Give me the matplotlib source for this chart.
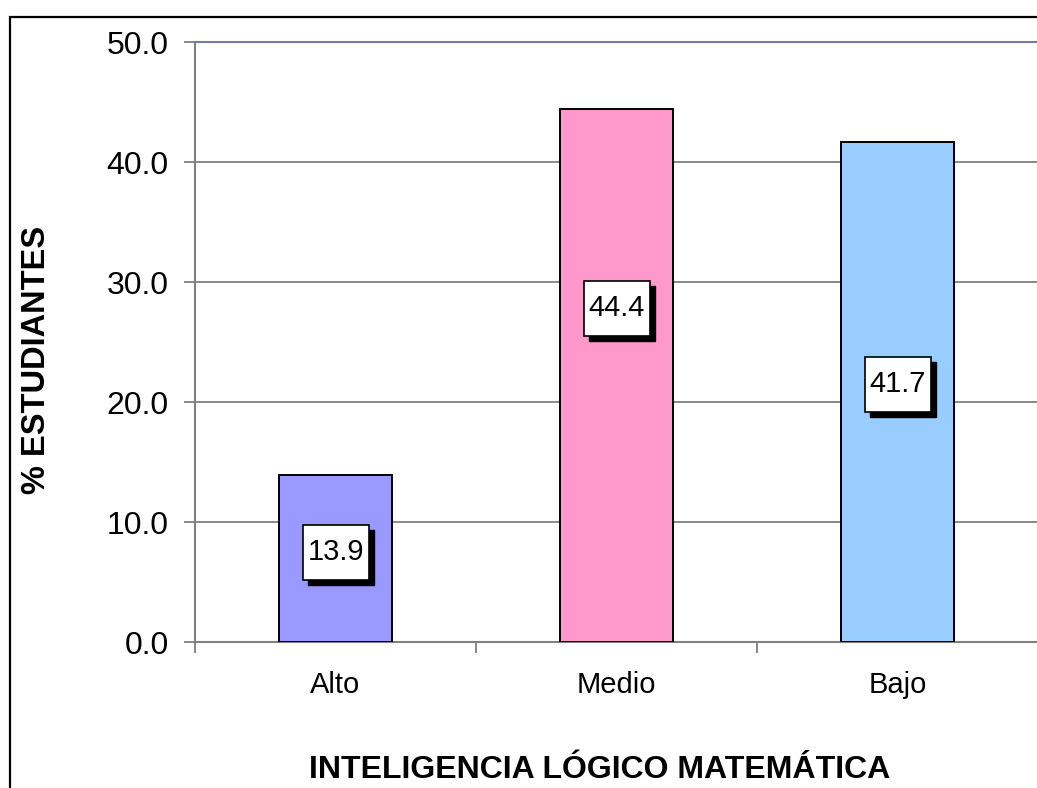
import matplotlib.pyplot as plt
from matplotlib.patches import Rectangle
from matplotlib.transforms import ScaledTranslation

plt.rcParams['font.family'] = ['Liberation Sans', 'DejaVu Sans']

categorias = ['Alto', 'Medio', 'Bajo']
porcentajes = [13.9, 44.4, 41.7]
colores = ['#9999ff', '#ff99cc', '#99ccff']
# altura (en unidades del eje) donde va cada etiqueta
pos_etiqueta = [7.5, 27.8, 21.5]

fig = plt.figure(figsize=(10.37, 7.88), dpi=100)
ax = fig.add_axes([195/1037, 1-642/788, 843/1037, 600/788])

x = list(range(len(categorias)))
ax.bar(x, porcentajes, width=0.405, color=colores, edgecolor='black', linewidth=1.4, zorder=3)

ax.set_xlim(-0.5, 2.5)
ax.set_ylim(0, 50)
ax.set_yticks([0, 10, 20, 30, 40, 50])
ax.set_yticklabels(['%.1f' % v for v in [0, 10, 20, 30, 40, 50]], fontsize=23)
ax.yaxis.grid(True, color='#808080', linewidth=1.3, zorder=0)
ax.tick_params(axis='y', length=8, width=1.3, color='#808080', pad=11)

# ticks en los limites de categoria, etiquetas centradas
ax.set_xticks([-0.5, 0.5, 1.5, 2.5])
ax.set_xticklabels([])
ax.set_xticks(x, minor=True)
ax.set_xticklabels(categorias, minor=True, fontsize=21)
ax.tick_params(axis='x', which='major', length=8, width=1.3, color='#808080')
ax.tick_params(axis='x', which='minor', length=0, pad=21)

for s in ['left', 'bottom']:
    ax.spines[s].set_color('#808080')
    ax.spines[s].set_linewidth(1.5)
ax.spines['top'].set_color('#7878a8')
ax.spines['top'].set_linewidth(1.5)
ax.spines['right'].set_visible(False)

# etiquetas de valor con sombra
w, h, off = 0.66, 0.55, 0.05
for xi, yi, v in zip(x, pos_etiqueta, porcentajes):
    tr = fig.dpi_scale_trans + ScaledTranslation(xi, yi, ax.transData)
    ax.add_patch(Rectangle((-w/2 + off, -h/2 - off), w, h, transform=tr,
                           facecolor='black', edgecolor='black', zorder=4))
    ax.add_patch(Rectangle((-w/2, -h/2), w, h, transform=tr,
                           facecolor='white', edgecolor='black', linewidth=1.2, zorder=5))
    ax.text(xi, yi, '%.1f' % v, ha='center', va='center', fontsize=21, zorder=6)

fig.text(37/1037, 1-360/788, '% ESTUDIANTES', rotation=90, ha='center', va='center',
         fontsize=23.5, fontweight='bold')
fig.text(600/1037, 1-778/788, 'INTELIGENCIA LÓGICO MATEMÁTICA', ha='center', va='baseline',
         fontsize=23, fontweight='bold')

# borde exterior del grafico
fig.patches.append(Rectangle((10/1037, -0.2), 1.2, 1.2 - 17/788, transform=fig.transFigure,
                             fill=False, edgecolor='black', linewidth=1.6, figure=fig))

fig.savefig('out.png', dpi=100)
